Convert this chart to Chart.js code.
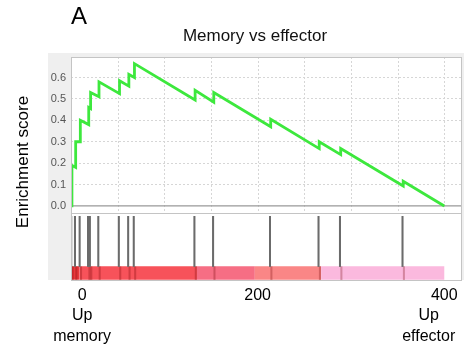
<!DOCTYPE html>
<html>
<head>
<meta charset="utf-8">
<script src="https://cdn.jsdelivr.net/npm/chart.js@4/dist/chart.umd.min.js"></script>
<style>
  html, body { margin: 0; padding: 0; background: #fff; }
</style>
</head>
<body>
<canvas id="gsea" width="464" height="350"></canvas>
<script>
// running enrichment score (rank, score)
const esRank  = [0, 1, 1, 5, 5, 10, 10, 19, 19, 21, 21, 30, 30, 52, 52, 62, 62, 68, 68, 133, 133, 153, 153, 214, 214, 266, 266, 289, 289, 356, 356, 400];
const esScore = [0, 0, 0.19, 0.18, 0.30, 0.30, 0.40, 0.38, 0.46, 0.455, 0.53, 0.51, 0.58, 0.525, 0.585, 0.56, 0.615, 0.60, 0.665, 0.495, 0.54, 0.485, 0.53, 0.37, 0.405, 0.268, 0.30, 0.24, 0.268, 0.093, 0.115, 0];

// ranks of the gene set members (hit lines)
const hitRanks = [1, 5, 10, 19, 21, 30, 52, 62, 68, 133, 153, 214, 266, 289, 356];

// ranked list colour bar
const barStops  = [0, 9, 135, 197, 268, 400];
const barColors = ['#e8383c', '#f7525a', '#f66e84', '#fa8686', '#fbb9de'];

const xTickValues = [0, 200, 400];
const xTickLabels = [['0', 'Up', 'memory'], ['200'], ['400', 'Up', 'effector']];

const FONT = "'Liberation Sans', Arial, sans-serif";
const NB = '\u00a0';

// the end labels sit a little inside the plot in the original
function nudge(lines, v) {
    if (v === 0) return lines.map(s => NB.repeat(5) + s);
    if (v === 400) return lines.map((s, i) => i === 0 ? s : s + NB.repeat(7));
    return lines;
}

const deco = {
    id: 'deco',
    beforeDraw(chart) {
        const { ctx, chartArea: a } = chart;
        ctx.save();
        ctx.fillStyle = '#efefef';
        ctx.fillRect(48, 53, chart.width - 48, a.bottom - 53);
        ctx.fillStyle = '#fff';
        ctx.fillRect(a.left, a.top, a.right - a.left, a.bottom - a.top);
        ctx.restore();
    },
    beforeDatasetsDraw(chart) {
        const { ctx, chartArea: a } = chart;
        const x = chart.scales.x, y = chart.scales.y;
        ctx.save();
        // vertical dotted grid, upper panel only
        ctx.strokeStyle = '#d6d6d6';
        ctx.lineWidth = 1;
        ctx.setLineDash([2, 2]);
        x.ticks.forEach(t => {
            const px = Math.round(x.getPixelForValue(t.value)) + 0.5;
            ctx.beginPath();
            ctx.moveTo(px, y.top);
            ctx.lineTo(px, y.bottom);
            ctx.stroke();
        });
        // zero line
        ctx.setLineDash([]);
        ctx.strokeStyle = '#999';
        ctx.lineWidth = 1.2;
        const zy = y.getPixelForValue(0);
        ctx.beginPath();
        ctx.moveTo(a.left, zy);
        ctx.lineTo(a.right, zy);
        ctx.stroke();
        ctx.restore();
    },
    afterDraw(chart) {
        const { ctx, chartArea: a } = chart;
        const y = chart.scales.y;
        ctx.save();
        ctx.strokeStyle = '#c4c4c4';
        ctx.lineWidth = 1;
        ctx.strokeRect(a.left + 0.5, a.top + 0.5, a.right - a.left - 1, a.bottom - a.top);
        ctx.beginPath();
        ctx.moveTo(a.left, Math.round(y.bottom) + 0.5);
        ctx.lineTo(a.right, Math.round(y.bottom) + 0.5);
        ctx.stroke();

        ctx.fillStyle = '#000';
        ctx.font = '24px ' + FONT;
        ctx.textAlign = 'left';
        ctx.textBaseline = 'alphabetic';
        ctx.fillText('A', 71, 24);

        ctx.font = '17px ' + FONT;
        ctx.textAlign = 'center';
        ctx.translate(28, 162);
        ctx.rotate(-Math.PI / 2);
        ctx.fillText('Enrichment score', 0, 0);
        ctx.restore();
    }
};

new Chart(document.getElementById('gsea'), {
    type: 'line',
    data: {
        datasets: [{
            label: 'ES',
            data: esRank.map((r, i) => ({ x: r, y: esScore[i] })),
            yAxisID: 'y',
            borderColor: '#3de83d',
            borderWidth: 2.8,
            pointRadius: 0,
            tension: 0,
            order: 1
        }, {
            type: 'bar',
            label: 'hits',
            data: hitRanks.map(r => ({ x: r, y: [0.2, 0.95] })),
            yAxisID: 'yh',
            backgroundColor: '#6b6b6b',
            barThickness: 1.4,
            order: 2
        }, {
            type: 'bar',
            label: 'hits (bar)',
            data: hitRanks.map(r => ({ x: r, y: [0, 0.2] })),
            yAxisID: 'yh',
            backgroundColor: 'rgba(110,0,0,0.28)',
            barThickness: 1.4,
            order: 2
        }, {
            label: 'ranked list',
            data: barStops.map(r => ({ x: r, y: 0.105 })),
            yAxisID: 'yh',
            borderWidth: 13.5,
            borderCapStyle: 'butt',
            pointRadius: 0,
            segment: { borderColor: c => barColors[c.p0DataIndex] },
            order: 3
        }]
    },
    options: {
        responsive: false,
        animation: false,
        events: [],
        layout: { padding: { left: 48, right: 2, top: 0, bottom: 0 } },
        plugins: {
            legend: { display: false },
            tooltip: { enabled: false },
            title: {
                display: true,
                text: 'Memory vs effector',
                color: '#111',
                font: { family: FONT, size: 17, weight: 'normal' },
                padding: { top: 26, bottom: 10.6 }
            }
        },
        scales: {
            x: {
                type: 'linear',
                position: 'bottom',
                offset: false,
                min: 0,
                max: 419,
                afterFit: s => { s.height = 70; s.paddingLeft = 0; s.paddingRight = 0; },
                grid: { display: false, drawTicks: false, offset: false },
                border: { display: false },
                ticks: {
                    stepSize: 50,
                    includeBounds: false,
                    autoSkip: false,
                    maxRotation: 0,
                    padding: 5,
                    color: '#000',
                    font: { family: FONT, size: 16, lineHeight: 1.28 },
                    callback: v => {
                        const i = xTickValues.indexOf(v);
                        return i >= 0 ? nudge(xTickLabels[i], v) : '';
                    }
                }
            },
            yh: {
                type: 'linear',
                position: 'left',
                stack: 'gsea',
                stackWeight: 67,
                min: 0,
                max: 1,
                afterFit: s => { s.width = 23; },
                grid: { display: false },
                border: { display: false },
                ticks: { display: false }
            },
            y: {
                type: 'linear',
                position: 'left',
                stack: 'gsea',
                stackWeight: 156,
                min: -0.033,
                max: 0.696,
                afterFit: s => { s.width = 23; },
                grid: {
                    drawTicks: false,
                    color: c => c.tick.value === 0 ? 'rgba(0,0,0,0)' : '#d6d6d6'
                },
                border: { display: false, dash: [2, 2] },
                ticks: {
                    stepSize: 0.1,
                    includeBounds: false,
                    padding: 5,
                    color: '#555',
                    font: { family: FONT, size: 11 },
                    callback: v => v.toFixed(1)
                }
            }
        }
    },
    plugins: [deco]
});
</script>
</body>
</html>
